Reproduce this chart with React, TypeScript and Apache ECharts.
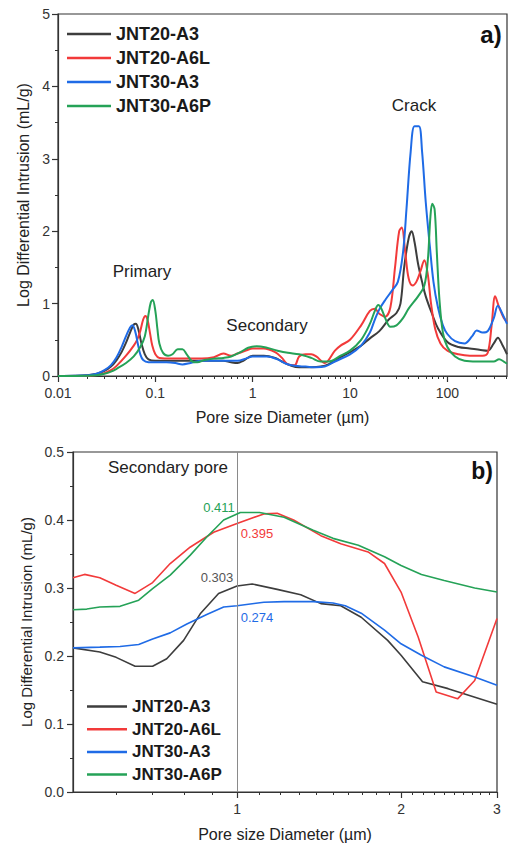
import React, { useEffect, useRef } from "react";
import * as echarts from "echarts";

const SERIES_NAMES = ["JNT20-A3", "JNT20-A6L", "JNT30-A3", "JNT30-A6P"];
const COLORS = ["#3d3d3d", "#f23a3a", "#1f6be6", "#25a257"];

// ---- Panel a) full pore-size distribution ----
const A_JNT20_A3_X = [0.01, 0.015, 0.02, 0.025, 0.03, 0.035, 0.04, 0.045, 0.05, 0.055, 0.06, 0.063, 0.067, 0.072, 0.078, 0.085, 0.1, 0.15, 0.2, 0.3, 0.4, 0.5, 0.6, 0.7, 0.8, 1.0, 1.3, 1.7, 2.0, 2.5, 3.0, 4.0, 5.0, 6.0, 8.0, 10, 13, 16, 20, 25, 30, 33, 36, 40, 43, 46, 50, 55, 60, 70, 80, 100, 130, 170, 220, 260, 300, 330, 370, 410];
const A_JNT20_A3_Y = [0, 0.002, 0.01, 0.03, 0.07, 0.13, 0.22, 0.33, 0.46, 0.6, 0.71, 0.72, 0.64, 0.45, 0.3, 0.23, 0.21, 0.21, 0.21, 0.21, 0.21, 0.21, 0.19, 0.18, 0.21, 0.28, 0.28, 0.25, 0.2, 0.14, 0.12, 0.12, 0.13, 0.16, 0.26, 0.33, 0.42, 0.52, 0.62, 0.78, 0.87, 1.0, 1.5, 1.9, 2.0, 1.85, 1.55, 1.3, 1.1, 0.85, 0.66, 0.47, 0.4, 0.38, 0.36, 0.35, 0.45, 0.53, 0.42, 0.3];

const A_JNT20_A6L_X = [0.01, 0.02, 0.025, 0.03, 0.035, 0.04, 0.05, 0.06, 0.065, 0.07, 0.075, 0.079, 0.083, 0.088, 0.093, 0.1, 0.11, 0.15, 0.2, 0.3, 0.4, 0.5, 0.6, 0.7, 0.85, 1.0, 1.3, 1.7, 2.0, 2.3, 2.7, 3.0, 3.5, 4.0, 4.5, 5.5, 7.0, 8.0, 10, 13, 16, 18, 20, 23, 26, 29, 32, 34, 37, 40, 44, 48, 53, 58, 63, 68, 75, 85, 100, 130, 170, 230, 260, 285, 310, 340, 380, 410];
const A_JNT20_A6L_Y = [0, 0.005, 0.015, 0.04, 0.08, 0.14, 0.28, 0.42, 0.5, 0.62, 0.78, 0.83, 0.78, 0.6, 0.42, 0.3, 0.25, 0.24, 0.24, 0.24, 0.26, 0.31, 0.28, 0.31, 0.35, 0.38, 0.38, 0.33, 0.25, 0.16, 0.15, 0.27, 0.3, 0.3, 0.27, 0.18, 0.35, 0.42, 0.5, 0.7, 0.9, 0.93, 0.86, 0.82, 0.95, 1.5, 2.0, 2.05, 1.7, 1.35, 1.25, 1.3, 1.45, 1.6, 1.4, 1.0, 0.65, 0.45, 0.35, 0.3, 0.28, 0.28, 0.32, 0.7, 1.1, 0.95, 0.8, 0.75];

const A_JNT30_A3_X = [0.01, 0.015, 0.02, 0.025, 0.03, 0.035, 0.04, 0.045, 0.05, 0.055, 0.058, 0.062, 0.066, 0.07, 0.075, 0.085, 0.1, 0.13, 0.16, 0.19, 0.23, 0.3, 0.5, 0.7, 0.85, 1.0, 1.4, 1.8, 2.2, 2.7, 3.5, 4.5, 5.5, 7.0, 10, 13, 16, 18, 20, 23, 27, 31, 35, 38, 42, 46, 51, 55, 60, 66, 72, 80, 90, 100, 120, 150, 180, 200, 230, 260, 300, 330, 370, 410];
const A_JNT30_A3_Y = [0, 0.002, 0.01, 0.03, 0.08, 0.15, 0.26, 0.4, 0.55, 0.67, 0.7, 0.62, 0.45, 0.3, 0.22, 0.19, 0.19, 0.19, 0.18, 0.16, 0.18, 0.21, 0.21, 0.21, 0.24, 0.27, 0.27, 0.23, 0.17, 0.14, 0.13, 0.12, 0.13, 0.2, 0.3, 0.42, 0.6, 0.78, 0.92, 1.05, 1.18, 1.3, 1.7, 2.3, 3.1, 3.45, 3.45, 3.1, 2.4, 1.8, 1.3, 0.95, 0.7, 0.58, 0.48, 0.45, 0.55, 0.63, 0.6, 0.62, 0.8, 0.97, 0.85, 0.72];

const A_JNT30_A6P_X = [0.01, 0.02, 0.025, 0.03, 0.035, 0.04, 0.05, 0.06, 0.07, 0.078, 0.085, 0.09, 0.094, 0.1, 0.105, 0.11, 0.12, 0.135, 0.15, 0.17, 0.19, 0.21, 0.24, 0.27, 0.32, 0.4, 0.5, 0.6, 0.75, 0.9, 1.1, 1.4, 1.8, 2.3, 3.0, 4.0, 5.0, 6.0, 8.0, 10, 13, 16, 18, 19.5, 21, 23, 26, 30, 35, 40, 50, 58, 63, 67, 70, 74, 78, 83, 90, 100, 120, 150, 200, 250, 300, 340, 380, 410];
const A_JNT30_A6P_Y = [0, 0.003, 0.01, 0.03, 0.06, 0.1, 0.18, 0.27, 0.4, 0.55, 0.85, 1.02, 1.05, 0.9, 0.65, 0.45, 0.32, 0.28, 0.3, 0.37, 0.37, 0.3, 0.2, 0.19, 0.22, 0.24, 0.25, 0.27, 0.33, 0.39, 0.41, 0.39, 0.35, 0.32, 0.3, 0.25, 0.2, 0.2, 0.28, 0.35, 0.5, 0.72, 0.9, 0.98, 0.93, 0.8, 0.68, 0.7, 0.8, 0.93, 1.1, 1.25, 1.6, 2.2, 2.38, 2.3, 1.7, 1.05, 0.6, 0.4, 0.27, 0.21, 0.2, 0.2, 0.2, 0.23, 0.2, 0.17];

// ---- Panel b) secondary pore zoom ----
const B_JNT20_A3_X = [0.5, 0.56, 0.6, 0.65, 0.7, 0.743, 0.798, 0.856, 0.925, 1.0, 1.066, 1.185, 1.309, 1.425, 1.55, 1.69, 1.89, 2.0, 2.19, 2.44, 3.0];
const B_JNT20_A3_Y = [0.212, 0.206, 0.198, 0.185, 0.185, 0.196, 0.223, 0.262, 0.292, 0.303, 0.306, 0.298, 0.29, 0.277, 0.274, 0.257, 0.223, 0.201, 0.162, 0.152, 0.129];

const B_JNT20_A6L_X = [0.5, 0.525, 0.56, 0.6, 0.65, 0.7, 0.754, 0.82, 0.906, 1.0, 1.12, 1.185, 1.27, 1.425, 1.55, 1.74, 1.865, 2.0, 2.15, 2.32, 2.54, 2.73, 3.0];
const B_JNT20_A6L_Y = [0.315, 0.32, 0.315, 0.304, 0.292, 0.308, 0.336, 0.36, 0.382, 0.395, 0.409, 0.41, 0.4, 0.377, 0.365, 0.353, 0.336, 0.294, 0.228, 0.147, 0.137, 0.164, 0.255];

const B_JNT30_A3_X = [0.5, 0.56, 0.61, 0.66, 0.7, 0.754, 0.809, 0.88, 0.945, 1.0, 1.12, 1.22, 1.38, 1.5, 1.58, 1.69, 1.865, 2.0, 2.18, 2.4, 2.73, 3.0];
const B_JNT30_A3_Y = [0.212, 0.213, 0.214, 0.217, 0.225, 0.234, 0.247, 0.261, 0.272, 0.274, 0.279, 0.28, 0.28, 0.278, 0.274, 0.263, 0.238, 0.218, 0.201, 0.184, 0.169, 0.157];

const B_JNT30_A6P_X = [0.5, 0.53, 0.56, 0.61, 0.66, 0.7, 0.754, 0.82, 0.88, 0.945, 1.014, 1.1, 1.22, 1.38, 1.5, 1.67, 1.865, 2.0, 2.18, 2.4, 2.73, 3.0];
const B_JNT30_A6P_Y = [0.268, 0.269, 0.272, 0.273, 0.282, 0.299, 0.319, 0.348, 0.375, 0.4, 0.411, 0.411, 0.404, 0.385, 0.373, 0.363, 0.346, 0.333, 0.32, 0.311, 0.3, 0.294];

const B_PEAK_LABELS = ["0.303", "0.395", "0.274", "0.411"];

// ---- ticks ----
const A_X_MAJOR = [0.01, 0.1, 1, 10, 100];
const A_X_MINOR = [0.02, 0.03, 0.04, 0.05, 0.06, 0.07, 0.08, 0.09, 0.2, 0.3, 0.4, 0.5, 0.6, 0.7, 0.8, 0.9, 2, 3, 4, 5, 6, 7, 8, 9, 20, 30, 40, 50, 60, 70, 80, 90, 200, 300, 400];
const B_X_MAJOR = [1, 2, 3];
const B_X_MINOR = [0.6, 0.7, 0.8, 0.9, 1.1, 1.2, 1.3, 1.4, 1.5, 1.6, 1.7, 1.8, 1.9, 2.1, 2.2, 2.3, 2.4, 2.5, 2.6, 2.7, 2.8, 2.9];

const pairs = (xs: number[], ys: number[]) => xs.map((x, i) => [x, ys[i]]);

const A_DATA = [
  pairs(A_JNT20_A3_X, A_JNT20_A3_Y),
  pairs(A_JNT20_A6L_X, A_JNT20_A6L_Y),
  pairs(A_JNT30_A3_X, A_JNT30_A3_Y),
  pairs(A_JNT30_A6P_X, A_JNT30_A6P_Y),
];
const B_DATA = [
  pairs(B_JNT20_A3_X, B_JNT20_A3_Y),
  pairs(B_JNT20_A6L_X, B_JNT20_A6L_Y),
  pairs(B_JNT30_A3_X, B_JNT30_A3_Y),
  pairs(B_JNT30_A6P_X, B_JNT30_A6P_Y),
];

const FONT = "'Liberation Sans', Arial, Helvetica, sans-serif";
const AX = "#333";

function majorX(gridIndex: number, min: number, max: number, ticks: number[], gap: number) {
  return {
    gridIndex,
    type: "log",
    logBase: 10,
    min,
    max,
    position: "bottom",
    axisLine: { show: true, onZero: false, lineStyle: { color: AX, width: 1.2 } },
    axisTick: { show: true, customValues: ticks, length: 6, lineStyle: { color: AX, width: 1.2 } },
    axisLabel: {
      customValues: ticks,
      formatter: (v: number) => String(v),
      fontSize: 14,
      color: "#333",
      margin: 10,
      fontFamily: FONT,
    },
    splitLine: { show: false },
    minorTick: { show: false },
    name: "Pore size Diameter (µm)",
    nameLocation: "middle",
    nameGap: gap,
    nameTextStyle: { fontSize: 16, color: "#222", fontFamily: FONT },
  };
}
function minorX(gridIndex: number, min: number, max: number, ticks: number[]) {
  return {
    gridIndex,
    type: "log",
    logBase: 10,
    min,
    max,
    position: "bottom",
    axisLine: { show: false, onZero: false },
    axisTick: { show: true, customValues: ticks, length: 3, lineStyle: { color: AX, width: 1 } },
    axisLabel: { show: false },
    splitLine: { show: false },
  };
}

export default function App() {
  const ref = useRef<HTMLDivElement>(null);
  useEffect(() => {
    const chart = echarts.init(ref.current!, null, { renderer: "svg" });
    const seriesA = A_DATA.map((d, i) => ({
      name: SERIES_NAMES[i],
      type: "line",
      xAxisIndex: 0,
      yAxisIndex: 0,
      data: d,
      symbol: "none",
      smooth: 0.35,
      lineStyle: { color: COLORS[i], width: 2 },
      itemStyle: { color: COLORS[i] },
      z: 2 + i,
    }));
    const seriesB = B_DATA.map((d, i) => ({
      name: SERIES_NAMES[i],
      type: "line",
      xAxisIndex: 2,
      yAxisIndex: 1,
      data: d,
      symbol: "none",
      smooth: false,
      lineStyle: { color: COLORS[i], width: 1.6 },
      itemStyle: { color: COLORS[i] },
      z: 2 + i,
      markLine:
        i === 0
          ? {
              silent: true,
              symbol: ["none", "none"],
              label: { show: false },
              lineStyle: { color: "#8a8a8a", width: 1, type: "solid" },
              data: [{ xAxis: 1 }],
            }
          : undefined,
    }));

    const labelStyle = (color: string) => ({ fill: color, fontSize: 13, fontFamily: FONT });
    const option: any = {
      animation: false,
      backgroundColor: "#fff",
      textStyle: { fontFamily: FONT },
      grid: [
        { left: 58, top: 14, width: 449, height: 362, show: true, borderColor: AX, borderWidth: 1.2, backgroundColor: "transparent" },
        { left: 73, top: 452, width: 424, height: 340, show: true, borderColor: AX, borderWidth: 1.2, backgroundColor: "transparent" },
      ],
      xAxis: [
        majorX(0, 0.01, 410, A_X_MAJOR, 33),
        minorX(0, 0.01, 410, A_X_MINOR),
        majorX(1, 0.5, 3, B_X_MAJOR, 34),
        minorX(1, 0.5, 3, B_X_MINOR),
      ],
      yAxis: [
        {
          gridIndex: 0,
          type: "value",
          min: 0,
          max: 5,
          interval: 1,
          axisLine: { show: true, lineStyle: { color: AX, width: 1.2 } },
          axisTick: { show: true, length: 6, lineStyle: { color: AX, width: 1.2 } },
          minorTick: { show: true, splitNumber: 2, length: 3, lineStyle: { color: AX } },
          axisLabel: { fontSize: 14, color: "#333", margin: 8, fontFamily: FONT },
          splitLine: { show: false },
          name: "Log Differential Intrusion (mL/g)",
          nameLocation: "middle",
          nameGap: 24,
          nameTextStyle: { fontSize: 16, color: "#222", fontFamily: FONT },
        },
        {
          gridIndex: 1,
          type: "value",
          min: 0,
          max: 0.5,
          interval: 0.1,
          axisLine: { show: true, lineStyle: { color: AX, width: 1.2 } },
          axisTick: { show: true, length: 6, lineStyle: { color: AX, width: 1.2 } },
          minorTick: { show: true, splitNumber: 2, length: 3, lineStyle: { color: AX } },
          axisLabel: { fontSize: 14, color: "#333", margin: 9, fontFamily: FONT, formatter: (v: number) => v.toFixed(1) },
          splitLine: { show: false },
          name: "Log Differential Intrusion (mL/g)",
          nameLocation: "middle",
          nameGap: 35,
          nameTextStyle: { fontSize: 15, color: "#222", fontFamily: FONT },
        },
      ],
      legend: [
        {
          orient: "vertical",
          left: 67,
          top: 25,
          padding: 0,
          icon: "rect",
          itemWidth: 44,
          itemHeight: 2.5,
          itemGap: 6,
          selectedMode: false,
          data: SERIES_NAMES,
          textStyle: { fontSize: 18, fontWeight: "bold", color: "#1a1a1a", fontFamily: FONT },
        },
        {
          orient: "vertical",
          left: 87,
          top: 698,
          padding: 0,
          icon: "rect",
          itemWidth: 40,
          itemHeight: 2.5,
          itemGap: 5.7,
          selectedMode: false,
          data: SERIES_NAMES,
          textStyle: { fontSize: 17, fontWeight: "bold", color: "#1a1a1a", fontFamily: FONT },
        },
      ],
      graphic: [
        { type: "text", x: 142, y: 271, style: { text: "Primary", fontSize: 17, fill: "#222", fontFamily: FONT, textAlign: "center", textVerticalAlign: "middle" } },
        { type: "text", x: 267, y: 325, style: { text: "Secondary", fontSize: 17, fill: "#222", fontFamily: FONT, textAlign: "center", textVerticalAlign: "middle" } },
        { type: "text", x: 414, y: 105, style: { text: "Crack", fontSize: 17, fill: "#222", fontFamily: FONT, textAlign: "center", textVerticalAlign: "middle" } },
        { type: "text", x: 491, y: 34, style: { text: "a)", fontSize: 24, fontWeight: "bold", fill: "#111", fontFamily: FONT, textAlign: "center", textVerticalAlign: "middle" } },
        { type: "text", x: 482, y: 471, style: { text: "b)", fontSize: 23, fontWeight: "bold", fill: "#111", fontFamily: FONT, textAlign: "center", textVerticalAlign: "middle" } },
        { type: "text", x: 168, y: 467, style: { text: "Secondary pore", fontSize: 17, fill: "#222", fontFamily: FONT, textAlign: "center", textVerticalAlign: "middle" } },
        { type: "text", x: 217, y: 577, style: { text: B_PEAK_LABELS[0], ...labelStyle("#555"), textAlign: "center", textVerticalAlign: "middle" } },
        { type: "text", x: 257, y: 533, style: { text: B_PEAK_LABELS[1], ...labelStyle(COLORS[1]), textAlign: "center", textVerticalAlign: "middle" } },
        { type: "text", x: 257, y: 617, style: { text: B_PEAK_LABELS[2], ...labelStyle(COLORS[2]), textAlign: "center", textVerticalAlign: "middle" } },
        { type: "text", x: 219, y: 507, style: { text: B_PEAK_LABELS[3], ...labelStyle(COLORS[3]), textAlign: "center", textVerticalAlign: "middle" } },
      ],
      series: [...seriesA, ...seriesB],
    };
    chart.setOption(option);
    return () => chart.dispose();
  }, []);
  return (
    <div
      ref={ref}
      style={{ position: "absolute", left: 0, top: 0, width: 509, height: 845, background: "#fff" }}
    />
  );
}
